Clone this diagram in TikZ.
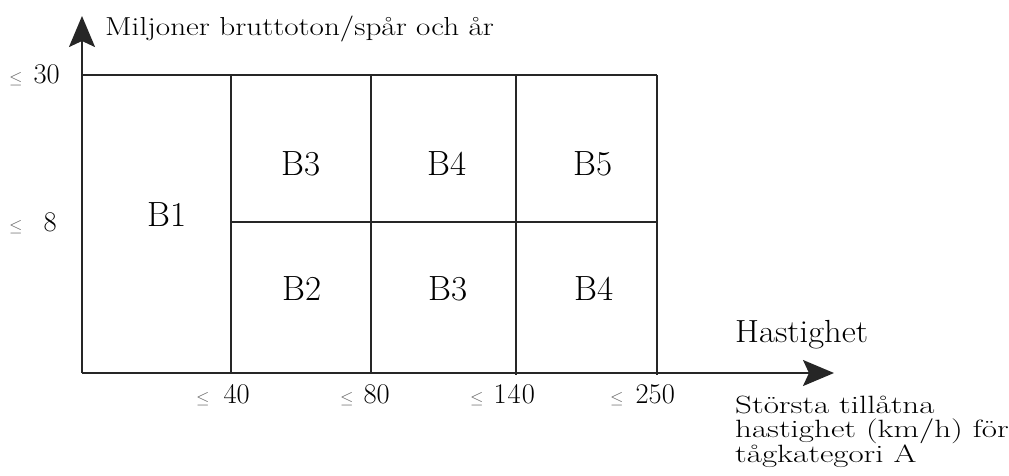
\documentclass[tikz,border=0pt]{standalone}
\usetikzlibrary{arrows.meta}
\begin{document}
\begin{tikzpicture}[x=1pt,y=-1pt,
  grid/.style={line width=1.7pt,draw=black!85},
  axis/.style={line width=1.9pt,draw=black!85,-{Stealth[length=31pt,width=26pt,inset=6pt]}},
  cell/.style={font=\fontsize{35}{40}\selectfont,anchor=base,inner sep=0pt},
  tick/.style={font=\fontsize{28.5}{30}\selectfont,anchor=base west,inner sep=0pt},
  lbl/.style={inner sep=0pt,anchor=base west},
  note/.style={lbl,font=\fontsize{25}{25}\selectfont}]
\newcommand{\leqs}{{\color{black!60}\fontsize{19}{20}\selectfont$\leq$}}
\useasboundingbox (0,0) rectangle (1009,475);
\coordinate (o) at (82,373);
\coordinate (ytip) at (82,16);
\coordinate (xtip) at (834,373);
% grid
\draw[grid] (82,75) -- (657,75);
\draw[grid] (231,222) -- (657,222);
\draw[grid] (231,75) -- (231,373);
\draw[grid] (371,75) -- (371,373);
\draw[grid] (516,75) -- (516,375);
\draw[grid] (657,75) -- (657,375);
% axes
\draw[axis] (o) -- (ytip);
\draw[axis] (o) -- (xtip);
% cell labels
\node[cell] (b1) at (167,226) {B1};
\node[cell] (b3a) at (301,175) {B3};
\node[cell] (b4a) at (447,175) {B4};
\node[cell] (b5) at (593,175) {B5};
\node[cell] (b2) at (302,300) {B2};
\node[cell] (b3b) at (448,300) {B3};
\node[cell] (b4b) at (594,300) {B4};
% y ticks
\node[tick] (y30) at (9,83) {\leqs\hspace{11pt}30};
\node[tick] (y8) at (9,231) {\leqs\hspace{21pt}8};
% x ticks
\node[tick] (x40) at (196,403) {\leqs\hspace{14pt}40};
\node[tick] (x80) at (340,403) {\leqs\hspace{10pt}80};
\node[tick] (x140) at (470,403) {\leqs\hspace{10pt}1\hspace{1pt}4\hspace{1pt}0};
\node[tick] (x250) at (610,403) {\leqs\hspace{12pt}250};
% axis labels
\node[lbl,font=\fontsize{26}{30}\selectfont] (ylab) at (105,35) {\scalebox{1.2}[1]{Miljoner bruttoton/spår och år}};
\node[lbl,font=\fontsize{32}{36}\selectfont] (hast) at (735,342) {\scalebox{1.08}[1]{Hastighet}};
\node[note] (xlab1) at (735,413) {\scalebox{1.32}[1]{Största tillåtna}};
\node[note] (xlab2) at (735,437.5) {\scalebox{1.32}[1]{hastighet (km/h) för}};
\node[note] (xlab3) at (735,462) {\scalebox{1.32}[1]{tågkategori A}};
\end{tikzpicture}
\end{document}
